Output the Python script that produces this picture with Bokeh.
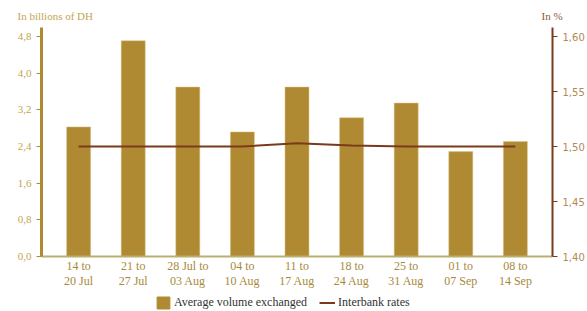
from bokeh.plotting import figure
from bokeh.layouts import column
from bokeh.models import (Range1d, LinearAxis, FixedTicker, CustomJSTickFormatter,
                          Legend, LegendItem, FactorRange, ColumnDataSource)
from bokeh.core.properties import value
from bokeh.embed import file_html
from bokeh.resources import INLINE

weeks = ["14 to\n20 Jul", "21 to\n27 Jul", "28 Jul to\n03 Aug", "04 to\n10 Aug",
         "11 to\n17 Aug", "18 to\n24 Aug", "25 to\n31 Aug", "01 to\n07 Sep", "08 to\n14 Sep"]
volume = [2.83, 4.71, 3.70, 2.72, 3.70, 3.03, 3.35, 2.29, 2.51]
rates = [1.500, 1.500, 1.500, 1.500, 1.503, 1.501, 1.500, 1.500, 1.500]
left_ticks = [0.0, 0.8, 1.6, 2.4, 3.2, 4.0, 4.8]
right_ticks = [1.40, 1.45, 1.50, 1.55, 1.60]
series_names = ["Average volume exchanged", "Interbank rates"]
unit_titles = ["In billions of DH", "In %"]

GOLD = "#B08A33"
BROWN = "#7A3B1C"
LABEL_GOLD = "#C4A552"
SERIF = "Liberation Serif"
W = 587

# top strip with the unit captions
tf = figure(width=W, height=27, output_backend="svg", toolbar_location=None,
            x_axis_type=None, y_axis_type=None, x_range=Range1d(0, W), y_range=Range1d(0, 27),
            min_border_left=0, min_border_right=0, min_border_top=0, min_border_bottom=0,
            frame_align=False)
tf.outline_line_color = None
tf.grid.visible = False
tf.text(x=[17], y=[12], text=[unit_titles[0]], text_font=value(SERIF), text_font_size="11px",
        text_color=LABEL_GOLD, text_baseline="alphabetic")
tf.text(x=[541], y=[12], text=[unit_titles[1]], text_font=value(SERIF), text_font_size="11px",
        text_color="#8A5A3A", text_baseline="alphabetic")

src = ColumnDataSource(dict(week=weeks, volume=volume, rates=rates))

p = figure(width=W, height=263, output_backend="svg", toolbar_location=None,
           x_range=FactorRange(*weeks, range_padding=0.04),
           y_range=Range1d(0, 5.0),
           min_border_left=41, min_border_right=35, min_border_top=0, min_border_bottom=26)
p.extra_y_ranges = {"rate": Range1d(1.40, 1.6082)}

bars = p.vbar(x="week", top="volume", width=0.44, source=src, fill_color=GOLD,
              line_color="#D8C48A", line_width=0.5)
line = p.line(x="week", y="rates", source=src, y_range_name="rate", line_color=BROWN, line_width=2)

p.grid.visible = False
p.outline_line_color = None

ax = p.yaxis[0]
ax.ticker = FixedTicker(ticks=left_ticks)
ax.formatter = CustomJSTickFormatter(code="return tick.toFixed(1).replace('.', ',');")
ax.axis_line_color = GOLD
ax.axis_line_width = 3
ax.major_tick_line_color = GOLD
ax.major_tick_in = 0
ax.major_tick_out = 5
ax.minor_tick_line_color = None
ax.major_label_text_color = LABEL_GOLD
ax.major_label_text_font = SERIF
ax.major_label_text_font_size = "11px"

rax = LinearAxis(y_range_name="rate")
rax.ticker = FixedTicker(ticks=right_ticks)
rax.formatter = CustomJSTickFormatter(code="return tick.toFixed(2).replace('.', ',');")
rax.axis_line_color = BROWN
rax.axis_line_width = 2
rax.major_tick_line_color = BROWN
rax.major_tick_in = 0
rax.major_tick_out = 5
rax.minor_tick_line_color = None
rax.major_label_text_color = "#B08A55"
rax.major_label_text_font = "DejaVu Sans"
rax.major_label_text_font_size = "10px"
p.add_layout(rax, "right")

xax = p.xaxis[0]
xax.axis_line_color = "#B8B070"
xax.axis_line_width = 2
xax.major_tick_line_color = None
xax.minor_tick_line_color = None
xax.major_label_text_color = "#A8893A"
xax.major_label_text_font = SERIF
xax.major_label_text_font_size = "12px"
xax.major_label_text_line_height = 1.1
xax.major_label_standoff = -4

# legend strip below the chart
lf = figure(width=W, height=21, output_backend="svg", toolbar_location=None,
            x_axis_type=None, y_axis_type=None, x_range=Range1d(0, 1), y_range=Range1d(0, 1),
            min_border_left=0, min_border_right=0, min_border_top=0, min_border_bottom=0,
            frame_align=False)
lf.outline_line_color = None
lf.grid.visible = False
dummy = ColumnDataSource(dict(x=[float("nan")], y=[float("nan")]))
lb = lf.vbar(x="x", top="y", width=0.1, source=dummy, fill_color=GOLD, line_color=GOLD)
ll = lf.line(x="x", y="y", source=dummy, line_color=BROWN, line_width=2)
legend = Legend(items=[LegendItem(label=series_names[0], renderers=[lb]),
                       LegendItem(label=series_names[1], renderers=[ll])],
                orientation="horizontal", location=(155, 1),
                label_text_font=SERIF, label_text_font_size="12px", label_text_color="#333333",
                background_fill_alpha=0, border_line_color=None,
                glyph_width=16, glyph_height=15, spacing=12, padding=0, margin=0,
                label_standoff=3, label_height=15)
lf.add_layout(legend, "center")

open("out.html", "w").write(file_html(column(tf, p, lf, spacing=0), INLINE))
